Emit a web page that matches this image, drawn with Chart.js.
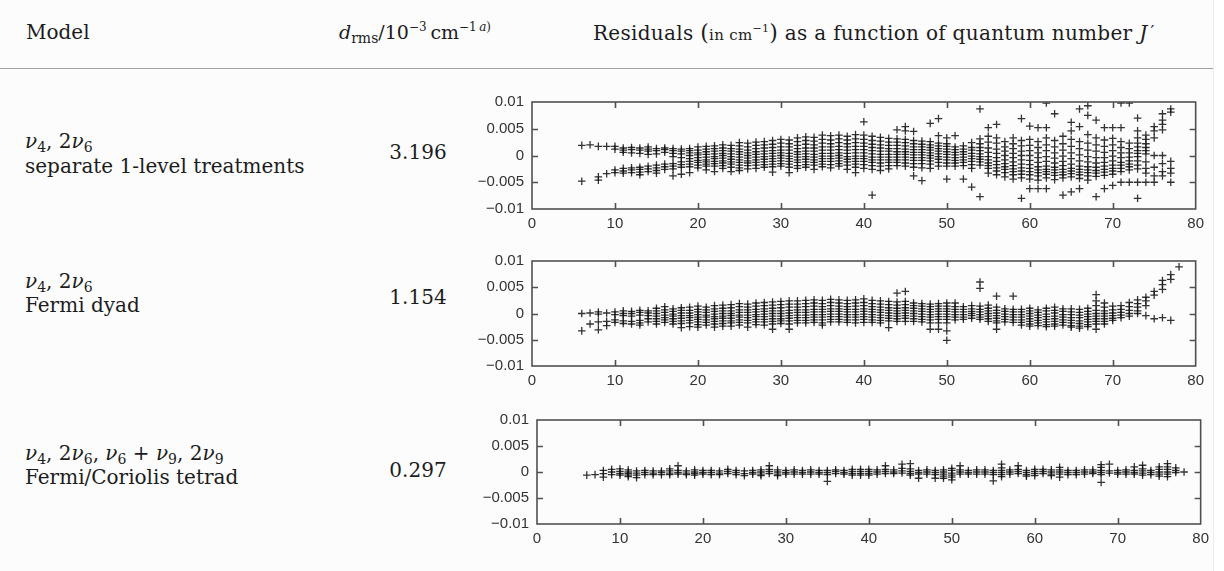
<!DOCTYPE html>
<html><head><meta charset="utf-8">
<script src="https://cdn.jsdelivr.net/npm/chart.js@4.4.1/dist/chart.umd.min.js"></script>
<style>
html,body{margin:0;padding:0;background:#fcfcfc;width:1224px;height:571px;overflow:hidden;position:relative;}
.t{position:absolute;font-family:"DejaVu Serif","Liberation Serif",serif;font-size:20px;color:#1c1c1c;white-space:nowrap;line-height:23px;}
.sb{font-size:14px;position:relative;top:4px;}
.sp{font-size:12px;position:relative;top:-8px;}
.num{text-align:center;width:100px;}
canvas{position:absolute;}
.rule{position:absolute;left:0;top:68px;width:1213px;height:1px;background:#a0a0a0;}
.edge{position:absolute;left:1213px;top:0;width:11px;height:571px;background:#fff;border-left:1px solid #eee;}
</style>
</head><body>
<div class="rule"></div>
<div class="edge"></div>
<div class="t" style="left:26px;top:21px;">Model</div>
<div class="t" style="left:339px;top:21px;font-size:19px;"><i>d</i><span class="sb">rms</span>/10<span class="sp">−3</span>&#8201;cm<span class="sp">−1&#8201;<i>a</i>)</span></div>
<div class="t" style="left:593px;top:21px;letter-spacing:0.3px;">Residuals <span style="font-size:22px">(</span><span style="font-size:15px">in cm<span class="sp" style="font-size:11px">−1</span></span><span style="font-size:22px">)</span> as a function of quantum number <i>J</i><span style="margin-left:3px;font-size:17px;position:relative;top:-3px;">′</span></div>

<div class="t" style="left:25px;top:130px;"><i>ν</i><span class="sb">4</span>, 2<i>ν</i><span class="sb">6</span><br>separate 1-level treatments</div>
<div class="t num" style="left:368px;top:141px;">3.196</div>

<div class="t" style="left:25px;top:270px;line-height:22px;"><i>ν</i><span class="sb">4</span>, 2<i>ν</i><span class="sb">6</span><br>Fermi dyad</div>
<div class="t num" style="left:368px;top:286px;">1.154</div>

<div class="t" style="left:25px;top:442px;line-height:22px;"><i>ν</i><span class="sb">4</span>, 2<i>ν</i><span class="sb">6</span>, <i>ν</i><span class="sb">6</span> + <i>ν</i><span class="sb">9</span>, 2<i>ν</i><span class="sb">9</span><br>Fermi/Coriolis tetrad</div>
<div class="t num" style="left:368px;top:459px;">0.297</div>

<canvas id="c1" width="750" height="154" style="left:460px;top:85px;"></canvas>
<canvas id="c2" width="750" height="152" style="left:460px;top:244px;"></canvas>
<canvas id="c3" width="750" height="151" style="left:465px;top:403px;"></canvas>

<script>
// Quantum number J' for each column of residuals; residuals in units of 1e-3 cm^-1
const jSeparate = [6,7,8,9,10,11,12,13,14,15,16,17,18,19,20,21,22,23,24,25,26,27,28,29,30,31,32,33,34,35,36,37,38,39,40,41,42,43,44,45,46,47,48,49,50,51,52,53,54,55,56,57,58,59,60,61,62,63,64,65,66,67,68,69,70,71,72,73,74,75,76,77];
const resSeparate = [
[1.9,-4.8],[2.0],[1.7,-4.0,-4.6],[1.7,-3.4],[1.7,1.2,-2.7,-3.2],
[1.4,1.0,0.6,-2.4,-2.9,-3.3],[1.5,1.1,0.5,-2.3,-2.7,-3.2],[1.4,1.0,0.4,-2.2,-2.6,-3.1,-3.6],[1.6,1.2,0.8,0.2,-2.0,-2.5,-3.0],[1.3,0.9,0.3,-1.8,-2.3,-2.8,-3.3],
[1.4,1.1,0.6,-1.6,-2.1,-2.6],[1.3,0.9,0.4,-0.2,-1.5,-2.0,-2.5,-3.8],[1.2,0.8,0.3,-0.4,-1.2,-1.7,-2.2,-3.5],[1.3,0.9,0.5,0.0,-0.6,-1.1,-1.6,-2.1,-3.2],[1.6,1.0,0.5,0.1,-0.4,-0.9,-1.3,-1.8,-2.3],
[1.7,1.2,0.7,0.2,-0.3,-0.8,-1.2,-1.6,-2.0,-2.7],[1.8,1.3,0.8,0.3,-0.2,-0.6,-1.1,-1.5,-2.0,-3.0],[2.0,1.4,0.9,0.4,0.0,-0.5,-1.0,-1.4,-1.9,-2.4],[1.9,1.3,0.8,0.3,-0.2,-0.7,-1.2,-1.6,-2.2,-3.0],[2.4,1.8,1.2,0.7,0.2,-0.3,-0.8,-1.3,-1.8,-2.3,-2.8],
[2.3,1.6,1.0,0.5,0.0,-0.5,-1.0,-1.4,-1.9,-2.5],[2.5,1.9,1.3,0.7,0.2,-0.3,-0.8,-1.3,-1.8,-2.4],[2.6,2.0,1.4,0.8,0.3,-0.2,-0.7,-1.2,-1.7,-2.2],[2.8,2.1,1.5,0.9,0.4,-0.1,-0.6,-1.1,-1.6,-2.1,-3.1],[3.0,2.3,1.6,1.0,0.5,0.0,-0.5,-1.0,-1.5,-2.0],
[2.9,2.2,1.6,1.0,0.4,-0.1,-0.6,-1.1,-1.6,-2.2,-3.2],[3.3,2.6,1.9,1.3,0.7,0.2,-0.3,-0.8,-1.3,-1.9,-2.4],[3.5,2.8,2.1,1.4,0.8,0.3,-0.2,-0.7,-1.2,-1.7,-2.2],[3.4,2.7,2.0,1.4,0.8,0.2,-0.3,-0.8,-1.3,-1.8,-2.6],[3.8,3.0,2.3,1.6,1.0,0.4,-0.1,-0.6,-1.1,-1.6,-2.1],
[3.7,2.9,2.2,1.6,1.0,0.4,-0.1,-0.6,-1.1,-1.7,-2.3],[3.8,3.1,2.4,1.7,1.1,0.5,0.0,-0.5,-1.0,-1.5,-2.0],[3.6,2.9,2.2,1.6,1.0,0.4,-0.2,-0.7,-1.2,-1.8,-2.6],[3.9,3.1,2.4,1.7,1.1,0.5,-0.1,-0.6,-1.1,-1.6,-2.2,-3.2],[6.3,3.8,3.0,2.3,1.7,1.1,0.5,-0.1,-0.6,-1.1,-1.7,-2.4],
[3.6,2.8,2.1,1.5,0.9,0.3,-0.3,-0.8,-1.3,-1.9,-2.6,-7.4],[3.4,2.7,2.0,1.4,0.8,0.2,-0.3,-0.8,-1.4,-2.0,-2.8],[3.2,2.5,1.9,1.3,0.8,0.2,-0.3,-0.8,-1.3,-1.9,-2.5],[4.8,3.1,2.5,1.9,1.3,0.7,0.2,-0.3,-0.8,-1.3,-1.9],[5.4,4.6,3.0,2.4,1.8,1.2,0.7,0.2,-0.3,-0.8,-1.4,-2.0],
[4.5,2.8,2.2,1.6,1.1,0.6,0.1,-0.4,-0.9,-1.5,-2.2,-3.8],[2.7,2.1,1.6,1.1,0.6,0.1,-0.4,-0.9,-1.5,-2.3,-4.7],[6.0,2.6,2.0,1.5,1.0,0.5,0.0,-0.5,-1.0,-1.6,-2.4],[6.9,3.7,2.3,1.8,1.3,0.8,0.3,-0.2,-0.7,-1.3,-2.0],[3.3,2.2,1.7,1.2,0.7,0.2,-0.3,-0.8,-1.4,-2.0,-4.4],
[3.7,1.6,1.1,0.6,0.1,-0.4,-0.9,-1.4,-2.0],[1.8,1.2,0.7,0.2,-0.3,-0.8,-1.3,-1.9,-4.4],[2.4,1.5,1.0,0.4,-0.1,-0.6,-1.1,-1.7,-2.4,-5.9],[8.7,3.1,2.2,1.5,0.9,0.3,-0.2,-0.7,-1.2,-1.8,-7.7],[5.2,3.6,2.5,1.4,0.6,-0.2,-0.8,-1.4,-1.9,-2.4,-3.3],
[5.8,3.3,2.3,1.2,0.4,-0.4,-1.1,-1.7,-2.3,-2.9,-3.6],[2.6,1.6,0.8,0.0,-0.8,-1.5,-2.1,-2.6,-3.2,-4.0],[3.3,2.2,1.3,0.4,-0.4,-1.2,-1.9,-2.5,-3.0,-3.6,-4.4],[6.9,2.8,1.8,0.8,0.0,-0.8,-1.6,-2.3,-2.9,-3.5,-4.2,-8.0],[5.5,3.0,1.9,0.9,0.0,-0.9,-1.7,-2.4,-3.0,-3.6,-4.4,-6.2],
[5.2,2.6,1.5,0.5,-0.4,-1.3,-2.1,-2.7,-3.2,-3.8,-4.6,-6.2],[9.8,5.2,3.3,2.0,0.9,-0.2,-1.1,-2.0,-2.6,-3.0,-3.5,-4.2,-6.2],[7.8,2.8,1.6,0.5,-0.5,-1.4,-2.2,-2.7,-3.2,-3.7,-4.5],[3.6,2.2,1.0,-0.1,-1.1,-1.9,-2.6,-3.1,-3.6,-4.2,-7.4],[6.2,4.6,3.0,1.7,0.5,-0.6,-1.6,-2.4,-2.9,-3.4,-4.0,-6.8],
[8.7,5.4,2.6,1.3,0.1,-1.0,-2.0,-2.6,-3.1,-3.6,-4.3,-6.2],[9.3,7.5,3.9,2.3,1.0,-0.2,-1.2,-2.1,-2.7,-3.2,-3.8,-4.6],[6.6,3.3,2.0,0.8,-0.4,-1.4,-2.2,-2.8,-3.3,-3.9,-7.7],[5.2,2.9,1.7,0.6,-0.4,-1.3,-2.0,-2.6,-3.1,-3.7,-6.2],[5.2,3.2,2.0,0.9,-0.1,-1.0,-1.8,-2.4,-2.9,-3.5,-5.6],
[9.8,5.2,2.6,1.5,0.5,-0.4,-1.3,-1.8,-2.4,-3.0,-5.0],[9.8,2.3,1.3,0.5,-0.3,-1.0,-1.6,-2.1,-2.7,-5.0],[7.0,4.6,3.3,2.3,1.6,0.9,0.4,-0.2,-1.0,-1.8,-2.5,-5.0,-8.0],[3.8,3.0,2.2,1.5,0.9,0.3,-1.2,-2.4,-3.3,-5.0],[5.4,4.6,3.3,0.0,-2.2,-3.8,-5.0],
[7.8,6.6,5.8,4.8,0.0,-1.5,-3.0,-3.8],[8.7,8.1,-1.1,-2.4,-3.3,-5.0]
];

const jDyad = [6,7,8,9,10,11,12,13,14,15,16,17,18,19,20,21,22,23,24,25,26,27,28,29,30,31,32,33,34,35,36,37,38,39,40,41,42,43,44,45,46,47,48,49,50,51,52,53,54,55,56,57,58,59,60,61,62,63,64,65,66,67,68,69,70,71,72,73,74,75,76,77,78];
const resDyad = [
[0.0,-3.3],[0.1,-2.0],[-0.1,0.3,-1.6,-3.1],[0.1,-1.5,-2.3],[0.3,-0.2,-1.7,-1.2],
[0.5,0.0,-0.4,-1.4,-1.9],[0.4,0.0,-0.5,-1.5,-2.0],[0.6,0.2,-0.3,-1.3,-1.8,-2.2],[0.5,0.1,-0.4,-1.0,-1.6],[1.0,0.5,0.0,-0.5,-1.0,-1.5,-2.0],
[1.3,0.7,0.2,-0.3,-0.8,-1.2,-1.7],[0.9,0.4,-0.1,-0.5,-1.0,-1.5,-2.0],[1.1,0.6,0.1,-0.4,-0.9,-1.4,-1.9,-2.7],[1.2,0.6,0.1,-0.4,-0.8,-1.3,-1.8,-2.5],[1.4,0.8,0.3,-0.2,-0.7,-1.1,-1.6,-2.1,-2.6],
[1.2,0.7,0.2,-0.3,-0.7,-1.2,-1.7,-2.2],[1.5,0.9,0.4,-0.1,-0.6,-1.0,-1.5,-2.0,-2.6],[1.6,1.0,0.5,0.0,-0.5,-0.9,-1.4,-1.9,-2.4],[1.7,1.1,0.5,0.0,-0.4,-0.9,-1.4,-1.8,-2.4],[1.9,1.3,0.7,0.2,-0.3,-0.7,-1.2,-1.7,-2.2],
[1.8,1.2,0.7,0.2,-0.3,-0.8,-1.3,-1.8,-2.6],[2.0,1.4,0.8,0.3,-0.2,-0.6,-1.1,-1.6,-2.1],[2.1,1.5,0.9,0.4,-0.1,-0.6,-1.1,-1.6,-2.2],[2.2,1.6,1.0,0.5,0.0,-0.5,-1.0,-1.5,-2.0,-3.0],[2.3,1.7,1.1,0.5,0.0,-0.5,-1.0,-1.4,-1.9],
[2.4,1.8,1.2,0.6,0.1,-0.4,-0.9,-1.4,-2.0,-3.0],[2.4,1.8,1.2,0.7,0.2,-0.3,-0.8,-1.3,-1.8],[2.5,1.9,1.3,0.7,0.2,-0.3,-0.8,-1.3,-1.8],[2.6,2.0,1.4,0.8,0.3,-0.2,-0.7,-1.2,-1.7],[2.5,1.9,1.3,0.8,0.3,-0.2,-0.7,-1.2,-1.8,-2.2],
[2.7,2.1,1.5,0.9,0.4,-0.1,-0.6,-1.1,-1.6],[2.6,2.0,1.4,0.9,0.4,-0.1,-0.6,-1.1,-1.6],[2.5,1.9,1.3,0.8,0.3,-0.2,-0.7,-1.2,-1.7],[2.6,2.0,1.4,0.8,0.3,-0.2,-0.7,-1.2,-1.8],[2.8,2.1,1.5,0.9,0.4,-0.1,-0.6,-1.1,-1.7],
[2.5,1.9,1.3,0.8,0.3,-0.2,-0.7,-1.2,-1.7],[2.4,1.8,1.2,0.7,0.2,-0.3,-0.8,-1.3,-1.8],[2.3,1.7,1.1,0.6,0.1,-0.4,-0.9,-1.4,-2.7],[3.9,2.2,1.6,1.0,0.5,0.0,-0.5,-1.0,-1.5],[4.2,2.3,1.7,1.1,0.6,0.1,-0.4,-0.9,-1.5],
[2.0,1.5,1.0,0.5,0.0,-0.5,-1.0,-1.5],[1.9,1.4,0.9,0.4,-0.1,-0.6,-1.1,-1.6],[1.8,1.3,0.8,0.3,-0.2,-0.7,-1.2,-1.8,-3.0],[1.9,1.4,0.9,0.4,-0.1,-0.6,-1.1,-1.8,-3.0],[2.0,1.4,0.9,0.4,-0.1,-0.6,-1.1,-1.8,-3.3,-5.1],
[2.0,1.3,0.8,0.3,-0.2,-0.7,-1.2],[1.3,0.8,0.3,-0.2,-0.7,-1.1],[1.5,0.9,0.4,0.0,-0.4,-0.9],[6.0,4.8,1.4,0.8,0.3,-0.2,-0.7,-1.1],[1.6,1.0,0.5,0.0,-0.5,-1.0,-1.5],
[3.3,1.2,0.6,0.1,-0.4,-0.9,-1.4,-1.8,-3.0],[0.9,0.4,-0.1,-0.6,-1.1,-1.6],[3.3,0.8,0.3,-0.2,-0.7,-1.2,-1.7],[0.8,0.3,-0.2,-0.7,-1.2,-1.7,-2.2],[1.0,0.5,0.0,-0.5,-1.0,-1.5,-2.0,-2.4],
[0.7,0.2,-0.3,-0.8,-1.3,-1.8,-2.3],[1.0,0.5,-0.1,-0.6,-1.1,-1.6,-2.1,-2.5],[1.2,0.6,0.1,-0.5,-1.0,-1.5,-2.0,-2.4],[0.9,0.4,-0.2,-0.7,-1.2,-1.7,-2.2],[0.9,0.3,-0.2,-0.8,-1.3,-1.8,-2.3,-2.6],
[0.8,0.2,-0.3,-0.8,-1.4,-1.9,-2.4,-2.8],[1.0,0.4,-0.1,-0.6,-1.1,-1.6,-2.1,-2.5],[3.6,2.4,1.5,0.6,0.0,-0.5,-1.0,-1.5,-2.0,-3.0],[2.0,1.2,0.5,0.0,-0.5,-1.0,-1.5,-2.0],[1.4,0.7,0.1,-0.4,-0.9,-1.3],
[1.5,0.8,0.2,-0.3,-0.8],[2.1,1.3,0.6,0.0,-0.5],[2.6,1.9,1.2,0.5,0.0],[3.1,2.4,1.5,-0.4],[4.2,3.5,-1.0],
[6.3,5.5,4.6,-0.8],[7.4,6.5,-1.3],[8.9]
];

const jTetrad = [6,7,8,9,10,11,12,13,14,15,16,17,18,19,20,21,22,23,24,25,26,27,28,29,30,31,32,33,34,35,36,37,38,39,40,41,42,43,44,45,46,47,48,49,50,51,52,53,54,55,56,57,58,59,60,61,62,63,64,65,66,67,68,69,70,71,72,73,74,75,76,77,78];
const resTetrad = [
[-0.6],[-0.5],[0.3,-0.3,-1.0],[0.5,0.0,-0.5],[0.6,0.1,-0.3,-0.6],
[0.4,0.0,-0.3,-0.6,-0.9],[0.2,-0.2,-0.6,-1.1],[0.3,-0.1,-0.5],[0.2,-0.2,-0.5],[0.2,-0.1,-0.5],
[0.6,0.2,-0.2,-0.5],[1.2,0.3,-0.1,-0.4],[0.2,-0.2,-0.5],[0.4,0.0,-0.3,-0.6],[0.3,-0.1,-0.4],
[0.3,-0.1,-0.5],[0.2,-0.2,-0.5],[0.5,0.1,-0.3],[0.3,-0.1,-0.5],[0.2,-0.3,-0.7],
[0.3,-0.1,-0.4],[0.4,0.0,-0.4,-0.7],[1.2,0.5,0.1,-0.3],[0.4,0.0,-0.4,-0.7],[0.3,-0.1,-0.4],
[0.4,0.0,-0.4],[0.3,-0.1,-0.4],[0.4,0.0,-0.4],[0.3,-0.1,-0.4],[0.3,-0.1,-0.5,-1.8],
[0.4,0.1,-0.3],[0.3,-0.1,-0.4],[0.5,0.1,-0.3,-0.6],[0.5,0.1,-0.3,-0.6],[0.5,0.1,-0.3,-0.6],
[0.4,0.0,-0.4],[1.2,0.5,0.1,-0.3],[0.4,0.0,-0.3],[1.5,0.7,0.2,-0.2],[1.6,0.6,0.1,-0.3,-0.6],
[0.3,-0.1,-0.4,-1.2],[0.4,0.0,-0.4],[0.3,-0.1,-0.5,-1.2],[0.4,0.0,-0.4,-0.8,-1.2],[0.7,0.3,-0.2,-0.6,-1.0,-1.5],
[1.2,0.4,0.0,-0.4],[0.3,-0.1,-0.4],[0.4,0.0,-0.4],[0.4,0.0,-0.4],[0.3,-0.1,-0.5,-1.7],
[1.5,0.8,0.3,-0.1,-0.5,-0.9],[0.4,0.0,-0.4],[1.2,0.5,0.1,-0.3],[0.3,-0.1,-0.5,-0.8],[0.5,0.1,-0.3,-0.7],
[0.5,0.1,-0.3],[0.4,0.0,-0.4,-0.7],[0.9,0.4,0.0,-0.4,-1.0],[0.3,-0.1,-0.5],[0.3,-0.1,-0.5],
[0.4,0.0,-0.4],[0.4,0.0,-0.3],[1.4,0.9,0.3,-0.1,-0.5,-2.0],[1.5,0.2,-0.2],[0.3,-0.1,-0.4],
[0.4,0.0,-0.4],[1.0,0.3,-0.1,-0.4],[1.3,0.6,0.2,-0.2,-0.6],[0.3,-0.1,-0.5],[1.0,0.5,0.0,-0.4,-0.8],
[1.6,1.0,0.5,0.0,-0.4,-0.9],[0.8,0.3,-0.1],[0.0]
];

const xTickValues = [0,10,20,30,40,50,60,70,80];
const yTickValues = [-0.01,-0.005,0,0.005,0.01];

function toPoints(js, res){
  const pts = [];
  js.forEach((j,i)=>res[i].forEach(v=>pts.push({x:j, y:v/1000})));
  return pts;
}

const framePlugin = {
  id:'frame',
  afterDatasetsDraw(chart){
    const {ctx, chartArea:a, scales:{x,y}} = chart;
    ctx.save();
    ctx.strokeStyle = '#505050';
    ctx.lineWidth = 1.6;
    ctx.beginPath();
    x.ticks.forEach(t=>{
      if (Math.abs(t.value-x.min)<1e-9 || Math.abs(t.value-x.max)<1e-9) return;
      const px = Math.round(x.getPixelForValue(t.value))+0.5;
      ctx.moveTo(px,a.bottom); ctx.lineTo(px,a.bottom-6);
      ctx.moveTo(px,a.top); ctx.lineTo(px,a.top+6);
    });
    y.ticks.forEach(t=>{
      if (Math.abs(t.value-y.min)<1e-9 || Math.abs(t.value-y.max)<1e-9) return;
      const py = Math.round(y.getPixelForValue(t.value))+0.5;
      ctx.moveTo(a.left,py); ctx.lineTo(a.left+6,py);
      ctx.moveTo(a.right,py); ctx.lineTo(a.right-6,py);
    });
    ctx.stroke();
    ctx.strokeRect(a.left, a.top, a.right-a.left, a.bottom-a.top);
    ctx.restore();
  }
};

function makeChart(id, js, res){
  const tickFont = {family:'"Liberation Sans", Arial, Helvetica, sans-serif', size:15};
  return new Chart(document.getElementById(id), {
    type:'scatter',
    data:{datasets:[{
      data: toPoints(js,res),
      pointStyle:'cross',
      pointRadius:3.8,
      pointBorderWidth:1.3,
      borderColor:'rgba(15,15,15,0.85)',
      backgroundColor:'rgba(15,15,15,0.85)'
    }]},
    options:{
      responsive:false, animation:false, devicePixelRatio:1, events:[],
      layout:{padding:{top:10,right:14,left:0,bottom:0}},
      plugins:{legend:{display:false}, tooltip:{enabled:false}},
      scales:{
        x:{type:'linear', min:0, max:80,
           afterBuildTicks:s=>{s.ticks = xTickValues.map(v=>({value:v}));},
           afterFit:s=>{s.height=30;},
           grid:{display:false, drawTicks:false}, border:{display:false},
           ticks:{padding:6, font:tickFont, color:'#333', maxRotation:0, autoSkip:false}},
        y:{type:'linear', min:-0.01, max:0.01,
           afterBuildTicks:s=>{s.ticks = yTickValues.map(v=>({value:v}));},
           afterFit:s=>{s.width=72;},
           grid:{display:false, drawTicks:false}, border:{display:false},
           ticks:{padding:8, font:tickFont, color:'#333', autoSkip:false,
             callback:v=>{const r=Math.round(v*1e4)/1e4; return r===0?'0':String(r).replace('-','\u2212');}}}
      }
    },
    plugins:[framePlugin]
  });
}

makeChart('c1', jSeparate, resSeparate);
makeChart('c2', jDyad, resDyad);
makeChart('c3', jTetrad, resTetrad);
</script>
</body></html>
